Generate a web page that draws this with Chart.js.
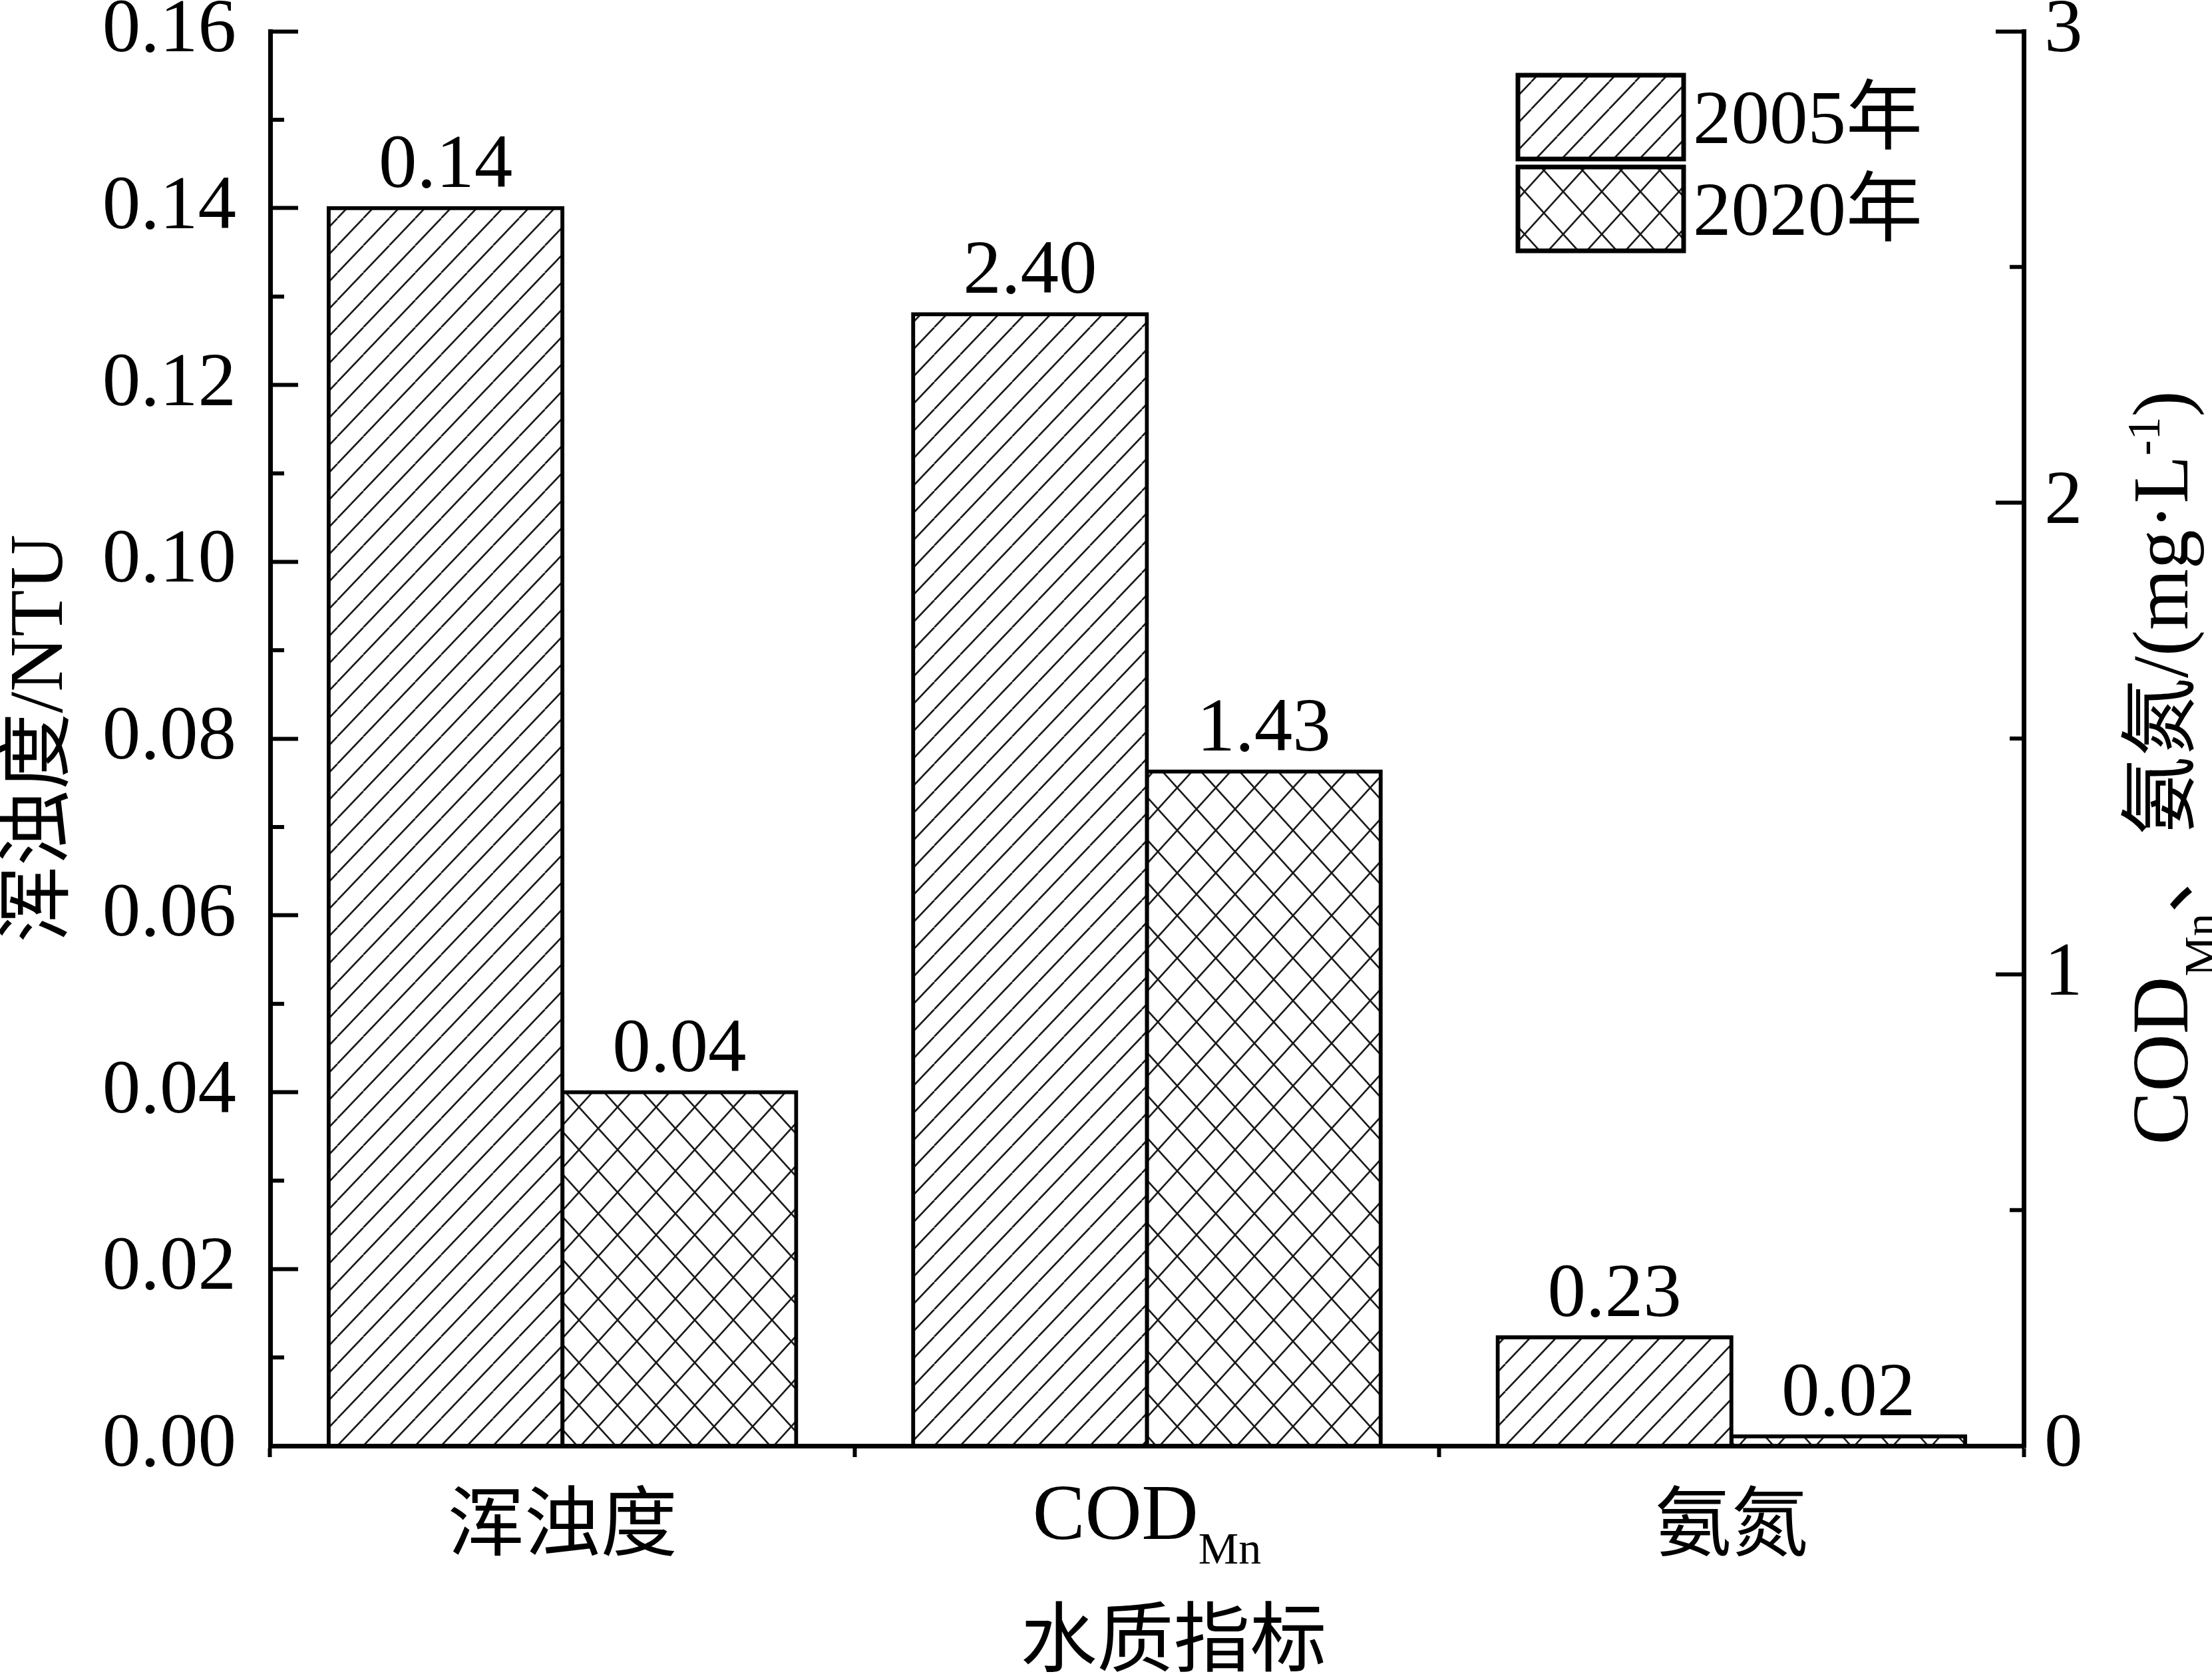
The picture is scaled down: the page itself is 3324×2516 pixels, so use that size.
<!DOCTYPE html>
<html>
<head>
<meta charset="utf-8">
<script src="https://cdn.jsdelivr.net/npm/chart.js@4.4.1/dist/chart.umd.min.js"></script>
<style>
  html, body { margin: 0; padding: 0; background: #fff; }
  canvas { display: block; }
</style>
</head>
<body>
<canvas id="waterChart" width="3324" height="2516"></canvas>
<script>
  const categories = ['浑浊度', 'COD', '氨氮'];
  const categorySubs = ['', 'Mn', ''];
  const years = ['2005年', '2020年'];
  const values2005 = [0.14, 2.40, 0.23];
  const values2020 = [0.04, 1.43, 0.02];
  // 浑浊度 is read on the left axis (NTU), the other two on the right axis (mg/L)
  const axisOfCategory = ['y', 'y1', 'y1'];
  const leftTickLabels = ['0.00', '0.02', '0.04', '0.06', '0.08', '0.10', '0.12', '0.14', '0.16'];
  const rightTickLabels = ['0', '1', '2', '3'];
  const leftMinorTicks = [0.01, 0.03, 0.05, 0.07, 0.09, 0.11, 0.13, 0.15];
  const rightMinorTicks = [0.5, 1.5, 2.5];

  const serif = '"Liberation Serif", "Times New Roman", "Noto Sans CJK SC", serif';

  function makeHatch(w, h, cross) {
    const tile = document.createElement('canvas');
    tile.width = w;
    tile.height = h;
    const g = tile.getContext('2d');
    g.fillStyle = '#fff';
    g.fillRect(0, 0, w, h);
    g.strokeStyle = '#1a1a1a';
    g.lineWidth = 2.6;
    g.beginPath();
    for (const k of [-1, 0, 1]) {
      g.moveTo(k * w, h);
      g.lineTo(k * w + w, 0);
      if (cross) {
        g.moveTo(k * w, 0);
        g.lineTo(k * w + w, h);
      }
    }
    g.stroke();
    return g.createPattern(tile, 'repeat');
  }

  const hatch2005 = makeHatch(39, 41, false);
  const hatch2020 = makeHatch(58, 64, true);
  const fills = [hatch2005, hatch2020];

  function onAxis(values, axis) {
    return values.map((v, i) => axisOfCategory[i] === axis ? v : null);
  }

  function barSet(label, values, axis, fill) {
    return {
      label: label,
      data: onAxis(values, axis),
      yAxisID: axis,
      stack: label,
      backgroundColor: fill,
      borderColor: '#000',
      borderWidth: 6,
      borderSkipped: 'start',
      inflateAmount: 3,
      categoryPercentage: 0.8,
      barPercentage: 1.0
    };
  }

  // sub / superscript pieces drawn in a row
  function drawPieces(ctx, pieces, x, y) {
    let cx = x;
    pieces.forEach(p => {
      ctx.font = p.size + 'px ' + serif;
      ctx.fillText(p.t, cx, y + p.dy);
      cx += ctx.measureText(p.t).width;
    });
  }
  function piecesWidth(ctx, pieces) {
    let w = 0;
    pieces.forEach(p => {
      ctx.font = p.size + 'px ' + serif;
      w += ctx.measureText(p.t).width;
    });
    return w;
  }

  const overlay = {
    id: 'overlay',
    afterDraw(chart) {
      const {ctx, scales, chartArea} = chart;
      ctx.save();
      ctx.fillStyle = '#000';
      ctx.strokeStyle = '#000';

      // minor ticks, inward
      ctx.lineWidth = 6;
      ctx.beginPath();
      leftMinorTicks.forEach(v => {
        const py = scales.y.getPixelForValue(v);
        ctx.moveTo(chartArea.left, py);
        ctx.lineTo(chartArea.left + 21, py);
      });
      rightMinorTicks.forEach(v => {
        const py = scales.y1.getPixelForValue(v);
        ctx.moveTo(chartArea.right, py);
        ctx.lineTo(chartArea.right - 21, py);
      });
      ctx.stroke();

      // value labels above bars
      ctx.font = '115px ' + serif;
      ctx.textAlign = 'center';
      ctx.textBaseline = 'alphabetic';
      chart.data.datasets.forEach((ds, di) => {
        const meta = chart.getDatasetMeta(di);
        meta.data.forEach((bar, i) => {
          const v = ds.data[i];
          if (v === null || v === undefined) return;
          ctx.fillText(v.toFixed(2), bar.x, bar.y - 32);
        });
      });

      // category labels
      categories.forEach((name, i) => {
        const cx = scales.x.getPixelForValue(i);
        if (categorySubs[i]) {
          const pieces = [
            {t: name, size: 118, dy: 0},
            {t: categorySubs[i], size: 68, dy: 37}
          ];
          const w = piecesWidth(ctx, pieces);
          ctx.textAlign = 'left';
          drawPieces(ctx, pieces, cx - w / 2, chartArea.bottom + 140);
        } else {
          ctx.font = '115px ' + serif;
          ctx.textAlign = 'center';
          ctx.fillText(name, cx, chartArea.bottom + 156);
        }
      });

      // x axis title
      ctx.font = '115px ' + serif;
      ctx.textAlign = 'center';
      ctx.fillText('水质指标', (chartArea.left + chartArea.right) / 2 + 40, chartArea.bottom + 330);

      // right axis title, read bottom to top
      const rightTitle = [
        {t: 'COD', size: 120, dy: 0},
        {t: 'Mn', size: 68, dy: 42},
        {t: '、氨氮/(mg·L', size: 118, dy: 0},
        {t: '-1', size: 70, dy: -42},
        {t: ')', size: 118, dy: 0}
      ];
      const tw = piecesWidth(ctx, rightTitle);
      ctx.save();
      ctx.translate(chartArea.right + 246, (chartArea.top + chartArea.bottom) / 2 + 44 + tw / 2);
      ctx.rotate(-Math.PI / 2);
      ctx.textAlign = 'left';
      drawPieces(ctx, rightTitle, 0, 0);
      ctx.restore();

      // legend
      years.forEach((name, i) => {
        const bx = 2281, by = 113 + i * 138, bw = 249, bh = 126;
        ctx.fillStyle = fills[i];
        ctx.fillRect(bx, by, bw, bh);
        ctx.lineWidth = 7;
        ctx.strokeStyle = '#000';
        ctx.strokeRect(bx, by, bw, bh);
        ctx.fillStyle = '#000';
        ctx.font = '115px ' + serif;
        ctx.textAlign = 'left';
        ctx.fillText(name, bx + bw + 14, by + 102);
      });

      ctx.restore();
    }
  };

  function fixWidth(w) {
    return function (scale) {
      scale.width = w;
      scale.paddingTop = 0;
      scale.paddingBottom = 0;
    };
  }

  const ctx = document.getElementById('waterChart').getContext('2d');

  const waterChart = new Chart(ctx, {
    type: 'bar',
    data: {
      labels: categories,
      datasets: [
        barSet(years[0], values2005, 'y', hatch2005),
        barSet(years[0], values2005, 'y1', hatch2005),
        barSet(years[1], values2020, 'y', hatch2020),
        barSet(years[1], values2020, 'y1', hatch2020)
      ]
    },
    options: {
      responsive: false,
      animation: false,
      events: [],
      layout: { padding: { top: 47, left: 0, right: 0, bottom: 0 } },
      scales: {
        x: {
          type: 'category',
          offset: true,
          ticks: { display: false },
          grid: {
            offset: true,
            drawOnChartArea: false,
            color: '#000',
            tickLength: 17,
            tickWidth: 6
          },
          border: { display: true, color: '#000', width: 7, z: 1 },
          afterFit: (scale) => {
            scale.height = 343;
            scale.paddingLeft = 0;
            scale.paddingRight = 0;
          }
        },
        y: {
          position: 'left',
          min: 0,
          max: parseFloat(leftTickLabels[leftTickLabels.length - 1]),
          ticks: {
            stepSize: 0.02,
            color: '#000',
            padding: 93,
            font: { family: serif, size: 115, lineHeight: 0.8 },
            callback: (value, index) => leftTickLabels[index]
          },
          grid: {
            drawOnChartArea: false,
            color: '#000',
            tickLength: -42,
            tickWidth: 6
          },
          border: { display: true, color: '#000', width: 7, z: 1 },
          title: {
            display: true,
            text: '浑浊度/NTU',
            color: '#000',
            font: { family: serif, size: 115, lineHeight: 1 },
            padding: { top: 5, bottom: 0 }
          },
          afterFit: fixWidth(406)
        },
        y1: {
          position: 'right',
          min: 0,
          max: parseFloat(rightTickLabels[rightTickLabels.length - 1]),
          ticks: {
            stepSize: 1,
            color: '#000',
            padding: 73,
            font: { family: serif, size: 115, lineHeight: 0.8 },
            callback: (value, index) => rightTickLabels[index]
          },
          grid: {
            drawOnChartArea: false,
            color: '#000',
            tickLength: -42,
            tickWidth: 6
          },
          border: { display: true, color: '#000', width: 7, z: 1 },
          afterFit: fixWidth(283)
        }
      },
      plugins: {
        legend: { display: false },
        tooltip: { enabled: false }
      }
    },
    plugins: [overlay]
  });
</script>
</body>
</html>
